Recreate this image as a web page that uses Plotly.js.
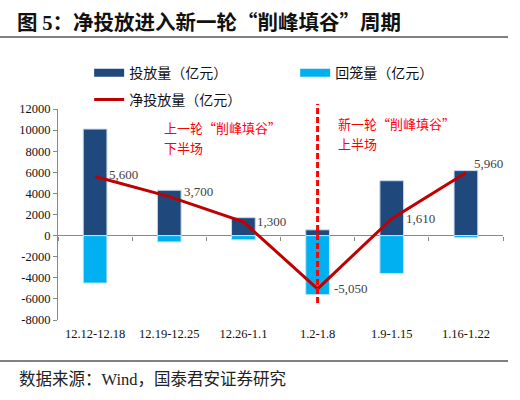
<!DOCTYPE html>
<html>
<head>
<meta charset="utf-8">
<script src="https://cdn.plot.ly/plotly-3.0.1.min.js"></script>
<style>html,body{margin:0;padding:0;background:#fff;}#chart{width:520px;height:400px;}</style>
</head>
<body>
<div id="chart"></div>
<script>
// ---- data ----
const categories = ['12.12-12.18', '12.19-12.25', '12.26-1.1', '1.2-1.8', '1.9-1.15', '1.16-1.22'];
const injection = [10100, 4300, 1700, 550, 5200, 6160];      // 投放量（亿元）
const withdrawal = [-4500, -600, -400, -5600, -3590, -200];  // 回笼量（亿元）
const netInjection = [5600, 3700, 1300, -5050, 1610, 5960];  // 净投放量（亿元）
const seriesNames = ['投放量（亿元）', '回笼量（亿元）', '净投放量（亿元）'];
const dividerCategory = '1.2-1.8';
const yTicks = [-8000, -6000, -4000, -2000, 0, 2000, 4000, 6000, 8000, 10000, 12000];
const titleText = '图 <span style="font-family:\'Liberation Serif\'">5</span>：净投放进入新一轮“削峰填谷”周期';
const sourceText = '数据来源：<span style="font-family:\'Liberation Serif\'">Wind</span>，国泰君安证券研究';
const noteLeft = ['上一轮“削峰填谷”', '下半场'];
const noteRight = ['新一轮“削峰填谷”', '上半场'];

// ---- styles ----
const DARK = '#1F497D', LIGHT = '#00B0F0', RED = '#C00000';
const CJK = '"Noto Sans CJK SC", sans-serif';
const SERIF = '"Liberation Serif", "Noto Sans CJK SC", serif';

const fmt = v => v.toLocaleString('en-US');

const traces = [
  {type: 'bar', x: categories, y: injection, name: seriesNames[0], marker: {color: DARK, line: {color: '#C9D9EA', width: 1}},
   width: 0.32, showlegend: false, hoverinfo: 'skip'},
  {type: 'bar', x: categories, y: withdrawal, name: seriesNames[1], marker: {color: LIGHT, line: {color: '#C9E6F5', width: 1}},
   width: 0.32, showlegend: false, hoverinfo: 'skip'},
  {type: 'scatter', mode: 'lines', x: categories, y: netInjection, name: seriesNames[2], xaxis: 'x2',
   line: {color: RED, width: 3}, legend: 'legend3', hoverinfo: 'skip'},
  // legend swatches for the bar series
  {type: 'scatter', mode: 'lines', x: [null], y: [null], name: seriesNames[0], line: {color: DARK, width: 8}, legend: 'legend'},
  {type: 'scatter', mode: 'lines', x: [null], y: [null], name: seriesNames[1], line: {color: LIGHT, width: 8}, legend: 'legend2'}
];

// label offsets (px) for the net-injection data labels
const labelShift = [[12, 2], [13, 5], [12, 0], [14, 0], [12, 0], [6, 9]];
const annotations = netInjection.map((v, i) => ({
  x: categories[i], y: v, xref: 'x', yref: 'y', text: fmt(v), showarrow: false,
  xanchor: 'left', yanchor: 'middle', xshift: labelShift[i][0], yshift: labelShift[i][1],
  font: {family: SERIF, size: 13, color: '#404040'}
}));
// plot area: x 58..503 px, y 109..320 px
const px = X => (X - 58) / 445;
const py = Y => (320 - Y) / 211;
const noteFont = {family: CJK, size: 13, color: '#FF0000'};
[[noteLeft, 163, [127.5, 147]], [noteRight, 337, [123.5, 143]]].forEach(([lines, X, ys]) => {
  lines.forEach((t, k) => annotations.push({xref: 'paper', yref: 'paper', x: px(X), y: py(ys[k]), xanchor: 'left',
    yanchor: 'middle', text: t, showarrow: false, borderpad: 0, font: noteFont}));
});
annotations.push(
  {xref: 'paper', yref: 'paper', x: px(17), y: py(378), xanchor: 'left', yanchor: 'middle',
   text: sourceText, showarrow: false, font: {family: CJK, size: 16.5, color: '#222'}}
);

const legendBase = {orientation: 'h', yanchor: 'middle', xanchor: 'left', bgcolor: 'rgba(0,0,0,0)',
  font: {family: CJK, size: 14, color: '#111'}, itemwidth: 30};

const layout = {
  width: 520, height: 400,
  margin: {l: 58, r: 17, t: 109, b: 80},
  paper_bgcolor: '#fff', plot_bgcolor: '#fff',
  barmode: 'relative',
  title: {text: titleText, x: 17 / 520, xanchor: 'left', xref: 'container', y: 1 - 23 / 400, yref: 'container', yanchor: 'middle',
          font: {family: CJK, size: 20.5, color: '#111', weight: 'bold'}},
  xaxis: {type: 'category', categoryarray: categories, range: [-0.5, 5.5], showline: false, ticks: '', showgrid: false,
          zeroline: false, ticklabelstandoff: 4, tickfont: {family: SERIF, size: 12.5, color: '#111'}},
  xaxis2: {type: 'category', categoryarray: categories, overlaying: 'x', anchor: 'free', position: 0.4, range: [-0.5, 5.5],
           showline: false, showgrid: false, zeroline: false, ticks: 'outside', tickson: 'boundaries', ticklen: 4,
           tickcolor: '#888', showticklabels: false},
  yaxis: {range: [-8000, 12000], tickvals: yTicks, ticktext: yTicks.map(String), showline: true, linecolor: '#888', linewidth: 1,
          ticks: 'outside', ticklen: 4, tickcolor: '#888', showgrid: false, zeroline: true, zerolinecolor: '#888', zerolinewidth: 1,
          tickfont: {family: SERIF, size: 12.5, color: '#111'}},
  legend: Object.assign({}, legendBase, {x: 0.07, y: 1.17}),
  legend2: Object.assign({}, legendBase, {x: 0.533, y: 1.17}),
  legend3: Object.assign({}, legendBase, {x: 0.07, y: 1.043}),
  shapes: [
    {type: 'line', xref: 'x', yref: 'paper', x0: dividerCategory, x1: dividerCategory, y0: py(303), y1: py(104),
     line: {color: '#FF0000', width: 3, dash: '6px,3px'}},
    {type: 'line', xref: 'paper', yref: 'paper', x0: px(0), x1: px(508), y0: py(37), y1: py(37), line: {color: '#000', width: 1}},
    {type: 'line', xref: 'paper', yref: 'paper', x0: px(0), x1: px(508), y0: py(361), y1: py(361), line: {color: '#000', width: 1}}
  ],
  annotations: annotations
};

Plotly.newPlot('chart', traces, layout, {staticPlot: true, displayModeBar: false});
</script>
</body>
</html>
